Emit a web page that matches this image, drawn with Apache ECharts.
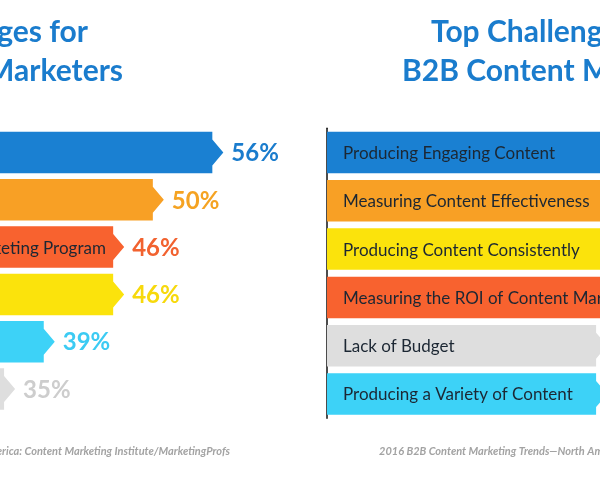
<!DOCTYPE html>
<html>
<head>
<meta charset="utf-8">
<script src="https://cdn.jsdelivr.net/npm/echarts@6/dist/echarts.min.js"></script>
<style>
  html, body { margin: 0; padding: 0; background: #fff; }
  #chart { width: 600px; height: 480px; }
</style>
</head>
<body>
<div id="chart"></div>
<script>
// B2C (left panel), top to bottom
var leftCats = [
  'Producing Engaging Content',
  'Measuring Content Effectiveness',
  'Measuring the ROI of Content Marketing Program',
  'Producing Content Consistently',
  'Producing a Variety of Content',
  'Lack of Budget'
];
var leftValues = [56, 50, 46, 46, 39, 35];

// B2B (right panel), top to bottom
var rightCats = [
  'Producing Engaging Content',
  'Measuring Content Effectiveness',
  'Producing Content Consistently',
  'Measuring the ROI of Content Marketing Program',
  'Lack of Budget',
  'Producing a Variety of Content'
];
var rightValues = [60, 57, 57, 52, 39, 39];

// 颜色按类别
var barColors = {
  'Producing Engaging Content': '#1a80d2',
  'Measuring Content Effectiveness': '#f8a025',
  'Producing Content Consistently': '#fbe30c',
  'Measuring the ROI of Content Marketing Program': '#f8622f',
  'Lack of Budget': '#dedede',
  'Producing a Variety of Content': '#3dd2f7'
};
var pctColors = {
  'Producing Engaging Content': '#1a7ccd',
  'Measuring Content Effectiveness': '#f5a322',
  'Producing Content Consistently': '#f7d90c',
  'Measuring the ROI of Content Marketing Program': '#f2622f',
  'Lack of Budget': '#cdcdcd',
  'Producing a Variety of Content': '#3ccbf3'
};

var BAR_H = 41.5;
var TIP = 11;

var makeRender = function (cats, textOffset) {
  return function (params, api) {
    var cs = params.coordSys;
    var idx = api.value(1);
    var name = cats[idx];
    var end = api.coord([api.value(0), idx]);
    var x0 = cs.x, x1 = end[0], cy = end[1];
    var top = cy - BAR_H / 2, bottom = cy + BAR_H / 2, a = 13;
    return {
      type: 'group',
      children: [
        {
          type: 'polygon',
          shape: { points: [[x0, top], [x1, top], [x1, cy - a], [x1 + TIP, cy], [x1, cy + a], [x1, bottom], [x0, bottom]] },
          style: { fill: barColors[name] }
        },
        {
          type: 'text',
          style: {
            text: name, x: x0 + textOffset, y: cy + 1,
            fill: '#1c2733', font: '17px Lato',
            align: 'left', verticalAlign: 'middle'
          }
        },
        {
          type: 'text',
          style: {
            text: api.value(0) + '%', x: x1 + TIP + 8, y: cy + 1,
            fill: pctColors[name], font: 'bold 24px Lato',
            align: 'left', verticalAlign: 'middle'
          }
        }
      ]
    };
  };
};

var titleStyle = { color: '#1a7ccd', fontSize: 30, fontWeight: 'bold', fontFamily: 'Lato' };
var footStyle = { color: '#a3a3a3', fontSize: 11, fontStyle: 'italic', fontFamily: 'Lato' };

var option = {
  backgroundColor: '#fff',
  animation: false,
  title: [
    { text: 'Top Challenges for', right: 512, top: 17, padding: 0, textStyle: titleStyle },
    { text: 'B2C Content Marketers', right: 477, top: 56, padding: 0, textStyle: titleStyle },
    { text: 'Top Challenges for', left: 431, top: 17, padding: 0, textStyle: titleStyle },
    { text: 'B2B Content Marketers', left: 402, top: 56, padding: 0, textStyle: titleStyle },
    { text: '2016 B2C Content Marketing Trends\u2014North America: Content Marketing Institute/MarketingProfs', right: 370, top: 446, padding: 0, textStyle: footStyle },
    { text: '2016 B2B Content Marketing Trends\u2014North America: Content Marketing Institute/MarketingProfs', left: 379, top: 446, padding: 0, textStyle: footStyle }
  ],
  grid: [
    { left: -343, top: 128.85, width: 595, height: 283.8, outerBoundsMode: 'none' },
    { left: 327, top: 128.35, width: 552, height: 289.8, outerBoundsMode: 'none' }
  ],
  xAxis: [
    { gridIndex: 0, type: 'value', min: 0, max: 60, show: false },
    { gridIndex: 1, type: 'value', min: 0, max: 80, show: false }
  ],
  yAxis: [
    { gridIndex: 0, type: 'category', data: leftCats, inverse: true, show: false },
    {
      gridIndex: 1, type: 'category', data: rightCats, inverse: true,
      axisLine: { show: true, lineStyle: { color: '#111', width: 1.5 } },
      axisTick: { show: false }, axisLabel: { show: false }, splitLine: { show: false }
    }
  ],
  series: [
    {
      type: 'custom', xAxisIndex: 0, yAxisIndex: 0,
      renderItem: makeRender(leftCats, 76),
      encode: { x: 0, y: 1 },
      data: leftValues.map(function (v, i) { return [v, i]; })
    },
    {
      type: 'custom', xAxisIndex: 1, yAxisIndex: 1,
      renderItem: makeRender(rightCats, 16),
      encode: { x: 0, y: 1 },
      data: rightValues.map(function (v, i) { return [v, i]; })
    }
  ]
};

var myChart = echarts.init(document.getElementById('chart'));
myChart.setOption(option);
</script>
</body>
</html>
